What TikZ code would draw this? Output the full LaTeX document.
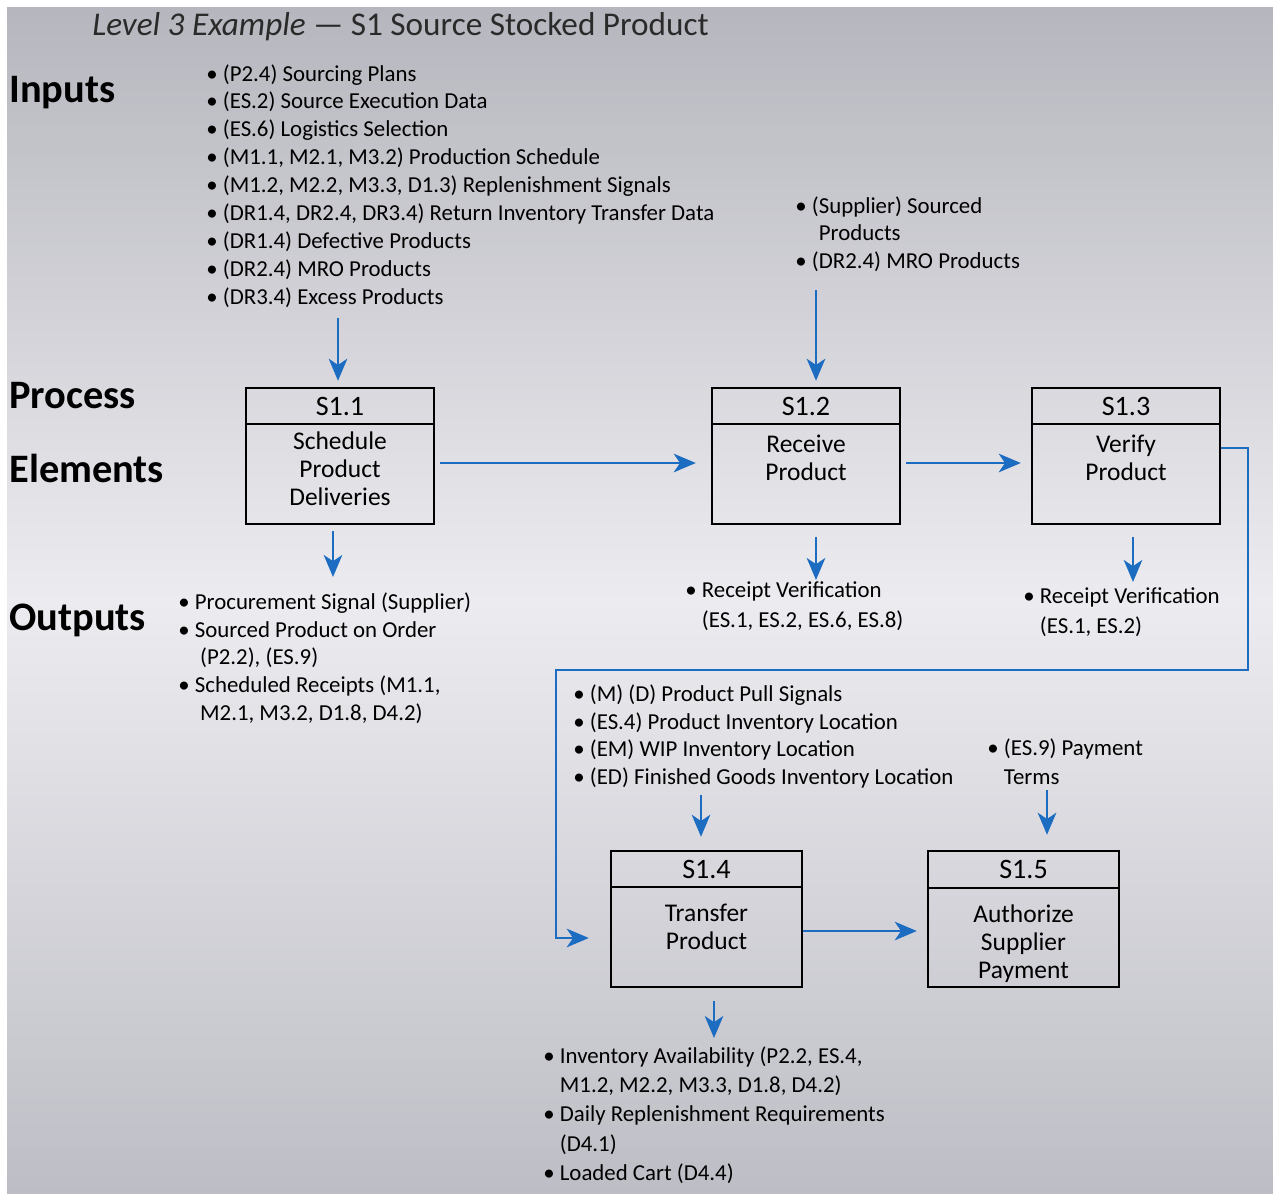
\documentclass[tikz,border=0pt]{standalone}
\usepackage{fontspec}
\setmainfont{Carlito}
\usetikzlibrary{arrows.meta}
\definecolor{arrblue}{HTML}{1C6CC2}
\definecolor{bgtop}{HTML}{B6B6BE}
\definecolor{bgmid}{HTML}{ECECF0}
\definecolor{bgbot}{HTML}{BDBDC5}
\definecolor{titlegray}{HTML}{2A2A2A}
\tikzset{
  arr/.style={draw=arrblue, line width=1.6pt, -{Stealth[length=12.5pt,width=10.5pt,inset=3.5pt]}},
  pbox/.style={draw=black, line width=1.4pt, minimum width=3.76cm, minimum height=2.72cm, inner sep=0pt},
  pboxw/.style={pbox, minimum width=3.82cm},
  phead/.style={draw=black, line width=1.4pt, minimum width=3.76cm, minimum height=0.72cm, inner sep=0pt, font=\fontsize{16}{18}\selectfont},
  pheadw/.style={phead, minimum width=3.82cm},
  pbody/.style={align=center, inner sep=0pt, font=\fontsize{14.5}{15.9}\selectfont},
  lst/.style={align=left, inner sep=0pt, anchor=north west, font=\fontsize{13}{15.9}\selectfont},
  lstw/.style={lst, font=\fontsize{13}{17}\selectfont},
  biglab/.style={anchor=west, inner sep=0pt, font=\fontsize{23}{26}\selectfont\bfseries},
}
\newcommand{\bu}{\textbullet\ }
\newcommand{\ind}{\hphantom{\textbullet\ }}
\begin{document}
\begin{tikzpicture}[x=0.02cm,y=-0.02cm]
\useasboundingbox (0,0) rectangle (1273,1193);
\fill[white] (0,0) rectangle (1273,1193);
\shade[top color=bgtop, bottom color=bgbot, middle color=bgmid] (7,8) rectangle (1273,1193);

% title and side labels
\node[anchor=west, inner sep=0pt, text=titlegray, font=\fontsize{18.9}{22}\selectfont] (title) at (92,27) {\textit{Level 3 Example} — S1 Source Stocked Product};
\node[biglab] (linputs) at (9,93) {Inputs};
\node[biglab] (lprocess) at (9,396) {Process};
\node[biglab] (lelements) at (9,468) {Elements};
\node[biglab] (loutputs) at (9,620) {Outputs};

% input lists
\node[lst] (in11) at (206,64) {\bu (P2.4) Sourcing Plans\\
\bu (ES.2) Source Execution Data\\
\bu (ES.6) Logistics Selection\\
\bu (M1.1, M2.1, M3.2) Production Schedule\\
\bu (M1.2, M2.2, M3.3, D1.3) Replenishment Signals\\
\bu (DR1.4, DR2.4, DR3.4) Return Inventory Transfer Data\\
\bu (DR1.4) Defective Products\\
\bu (DR2.4) MRO Products\\
\bu (DR3.4) Excess Products};
\node[lst] (in12) at (795,196) {\bu (Supplier) Sourced\\
\ind\hspace{4pt}Products\\
\bu (DR2.4) MRO Products};

% process boxes
\node[pbox] (s11) at (340,456) {};
\node[phead, anchor=north] (s11t) at (s11.north) {S1.1};
\node[pbody] (s11b) at (340,469) {Schedule\\Product\\Deliveries};
\node[pbox] (s12) at (806,456) {};
\node[phead, anchor=north] (s12t) at (s12.north) {S1.2};
\node[pbody] (s12b) at (806,458) {Receive\\Product};
\node[pbox] (s13) at (1126,456) {};
\node[phead, anchor=north] (s13t) at (s13.north) {S1.3};
\node[pbody] (s13b) at (1126,458) {Verify\\Product};
\node[pboxw] (s14) at (706.5,919) {};
\node[pheadw, anchor=north] (s14t) at (s14.north) {S1.4};
\node[pbody] (s14b) at (706.5,927) {Transfer\\Product};
\node[pboxw] (s15) at (1023.5,919) {};
\node[pheadw, anchor=north, minimum height=0.74cm] (s15t) at (s15.north) {S1.5};
\node[pbody] (s15b) at (1023.5,944) {Authorize\\Supplier\\Payment};

% output lists
\node[lst] (o11) at (178,592) {\bu Procurement Signal (Supplier)\\
\bu Sourced Product on Order\\
\ind\hspace{3pt}(P2.2), (ES.9)\\
\bu Scheduled Receipts (M1.1,\\
\ind\hspace{3pt}M2.1, M3.2, D1.8, D4.2)};
\node[lstw] (o12) at (685,581) {\bu Receipt Verification\\
\ind(ES.1, ES.2, ES.6, ES.8)};
\node[lstw] (o13) at (1023,587) {\bu Receipt Verification\\
\ind(ES.1, ES.2)};
\node[lst] (in14) at (573,684) {\bu (M) (D) Product Pull Signals\\
\bu (ES.4) Product Inventory Location\\
\bu (EM) WIP Inventory Location\\
\bu (ED) Finished Goods Inventory Location};
\node[lstw] (in15) at (987,738) {\bu (ES.9) Payment\\
\ind Terms};
\node[lst, font=\fontsize{13}{16.7}\selectfont] (o14) at (543,1046) {\bu Inventory Availability (P2.2, ES.4,\\
\ind M1.2, M2.2, M3.3, D1.8, D4.2)\\
\bu Daily Replenishment Requirements\\
\ind(D4.1)\\
\bu Loaded Cart (D4.4)};

% connectors
\coordinate (a11) at (338,318);
\draw[arr, shorten >=0.12cm] (a11) -- (a11 |- s11.north);
\coordinate (a12) at (816,290);
\draw[arr, shorten >=0.12cm] (a12) -- (a12 |- s12.north);
\draw[arr, shorten <=0.1cm, shorten >=0.3cm] ([yshift=-0.14cm]s11.east) -- ([yshift=-0.14cm]s12.west);
\draw[arr, shorten <=0.1cm, shorten >=0.2cm] ([yshift=-0.14cm]s12.east) -- ([yshift=-0.14cm]s13.west);
\coordinate (b11) at (333,577);
\draw[arr, shorten <=0.12cm] (b11 |- s11.south) -- (b11);
\coordinate (b12) at (816,580);
\draw[arr, shorten <=0.24cm] (b12 |- s12.south) -- (b12);
\coordinate (b13) at (1133,582);
\draw[arr, shorten <=0.24cm] (b13 |- s13.south) -- (b13);
\coordinate (c1) at (1248,670);
\coordinate (c2) at (556,938);
\draw[arr, shorten >=0.42cm] ([yshift=0.16cm]s13.east) -| (c1) -| (c2) -- (c2 -| s14.west);
\coordinate (a14) at (701,795);
\draw[arr, shorten >=0.26cm] (a14) -- (a14 |- s14.north);
\coordinate (a15) at (1047,790);
\draw[arr, shorten >=0.3cm] (a15) -- (a15 |- s15.north);
\draw[arr, shorten >=0.2cm] ([yshift=-0.24cm]s14.east) -- ([yshift=-0.24cm]s15.west);
\coordinate (b14) at (714,1038);
\draw[arr, shorten <=0.26cm] (b14 |- s14.south) -- (b14);
\end{tikzpicture}
\end{document}
